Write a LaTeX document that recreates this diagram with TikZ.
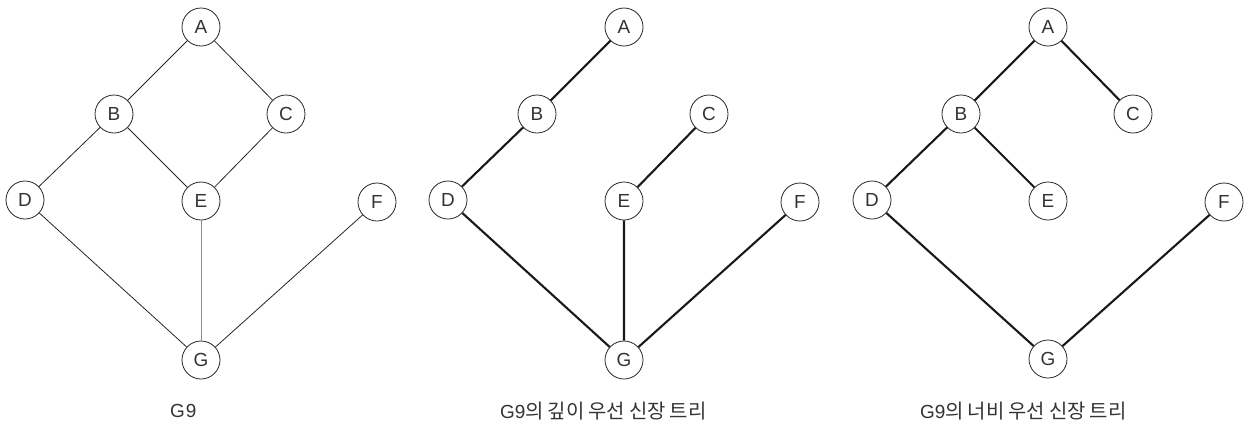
\documentclass[tikz,border=0pt]{standalone}
\usepackage{fontspec}
\setmainfont{Liberation Sans}
\newfontfamily\kofont{Noto Sans CJK KR}
\newcommand{\kgap}{\hspace{4bp}}
\begin{document}
\begin{tikzpicture}[x=1bp,y=-1bp,
  vtx/.style={circle,draw=black!85,line width=0.8bp,minimum size=38bp,inner sep=0pt,font=\fontsize{19}{19}\selectfont,text=black!80},
  edgethin/.style={line width=0.8bp,draw=black!85},
  edgegray/.style={line width=1bp,draw=black!45},
  edgethick/.style={line width=2.1bp,draw=black!90},
  captext/.style={font=\fontsize{19}{19}\selectfont,text=black!80,anchor=west,inner sep=0pt}]
\useasboundingbox (0,0) rectangle (1249,426);
% graph 1
\begin{scope}
\node[vtx] (a1) at (201,27) {A};
\node[vtx] (b1) at (114,114) {B};
\node[vtx] (c1) at (286,114) {C};
\node[vtx] (d1) at (25,200) {D};
\node[vtx] (e1) at (201,201) {E};
\node[vtx] (f1) at (377,202) {F};
\node[vtx] (g1) at (201,360) {G};
\draw[edgethin] (a1)--(b1) (a1)--(c1) (b1)--(d1) (b1)--(e1) (c1)--(e1) (d1)--(g1) (f1)--(g1);
\draw[edgegray] (e1)--(g1);
\node[captext] (t1) at (170,411) {G\hspace{1bp}9};
\end{scope}
% graph 2
\begin{scope}[xshift=423bp]
\node[vtx] (a2) at (201,27) {A};
\node[vtx] (b2) at (114,114) {B};
\node[vtx] (c2) at (286,114) {C};
\node[vtx] (d2) at (25,200) {D};
\node[vtx] (e2) at (201,201) {E};
\node[vtx] (f2) at (377,202) {F};
\node[vtx] (g2) at (201,360) {G};
\draw[edgethick] (a2)--(b2) (b2)--(d2) (d2)--(g2) (g2)--(e2) (e2)--(c2) (g2)--(f2);
\node[captext] (t2) at (77,411) {G9{\kofont\fontsize{20}{20}\selectfont 의\kgap 깊이\kgap 우선\kgap 신장\kgap 트리}};
\end{scope}
% graph 3
\begin{scope}[xshift=847bp]
\node[vtx] (a3) at (201,27) {A};
\node[vtx] (b3) at (114,114) {B};
\node[vtx] (c3) at (286,114) {C};
\node[vtx] (d3) at (25,200) {D};
\node[vtx] (e3) at (201,201) {E};
\node[vtx] (f3) at (377,202) {F};
\node[vtx] (g3) at (201,359) {G};
\draw[edgethick] (a3)--(b3) (a3)--(c3) (b3)--(d3) (b3)--(e3) (d3)--(g3) (g3)--(f3);
\node[captext] (t3) at (73,411) {G9{\kofont\fontsize{20}{20}\selectfont 의\kgap 너비\kgap 우선\kgap 신장\kgap 트리}};
\end{scope}
\end{tikzpicture}
\end{document}
